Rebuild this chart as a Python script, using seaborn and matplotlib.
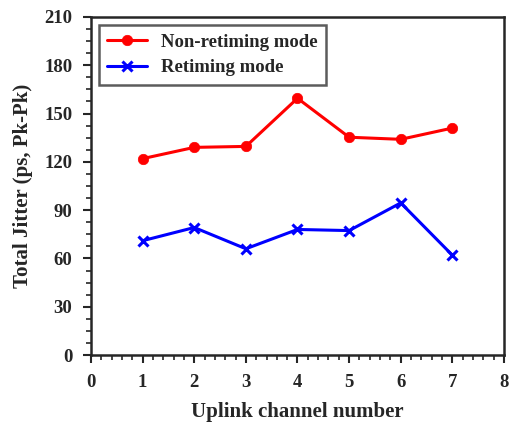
import matplotlib
matplotlib.use("Agg")
import matplotlib.pyplot as plt
import seaborn as sns
import pandas as pd
from matplotlib.ticker import MultipleLocator

channels = [1, 2, 3, 4, 5, 6, 7]
non_retiming = [122, 129, 129.6, 159.5, 135.3, 134, 141]
retiming = [71, 79.2, 66, 78, 77.3, 94.5, 62]
series_names = ["Non-retiming mode", "Retiming mode"]

sns.set_style("ticks")
plt.rcParams['font.family'] = ['Liberation Serif', 'DejaVu Serif']
plt.rcParams['font.weight'] = 'bold'

df_a = pd.DataFrame({"x": channels, "y": non_retiming})
df_b = pd.DataFrame({"x": channels, "y": retiming})

fig = plt.figure(figsize=(5.10, 4.23), dpi=100)
ax = fig.add_axes([91/510, (423-355)/423, (504-91)/510, (355-17)/423])

sns.lineplot(data=df_a, x="x", y="y", color="#ff0000", marker="o",
             linewidth=2.2, markersize=7.5, markeredgecolor="#ff0000",
             markeredgewidth=0.5, label=series_names[0], ax=ax)
sns.lineplot(data=df_b, x="x", y="y", color="#0000ff", marker="x",
             linewidth=2.2, markersize=7, markeredgecolor="#0000ff",
             markeredgewidth=2.2, label=series_names[1], ax=ax)

ax.set_xlim(0, 8)
ax.set_ylim(0, 210)
ax.xaxis.set_major_locator(MultipleLocator(1))
ax.xaxis.set_minor_locator(MultipleLocator(0.2))
ax.yaxis.set_major_locator(MultipleLocator(30))
ax.yaxis.set_minor_locator(MultipleLocator(7.5))
ax.tick_params(which="major", direction="out", length=6, width=1.5, labelsize=13.5, pad=7.5)
ax.tick_params(which="minor", direction="out", length=3.5, width=1.2)
for lab in ax.get_xticklabels() + ax.get_yticklabels():
    lab.set_fontweight("bold")
for s in ax.spines.values():
    s.set_linewidth(1.8)

ax.set_xlabel("Uplink channel number", fontsize=15, fontweight="bold", labelpad=8)
ax.set_ylabel("Total Jitter (ps, Pk-Pk)", fontsize=15, fontweight="bold", labelpad=8)

leg = ax.legend(loc="upper left", frameon=True, fancybox=False,
                prop={"size": 13.5, "weight": "bold"}, borderpad=0.45,
                handlelength=2.1, handletextpad=0.75, labelspacing=0.45,
                borderaxespad=0, bbox_to_anchor=(0.019, 0.976))
leg.get_frame().set_edgecolor("#333333")
leg.get_frame().set_linewidth(1.8)

fig.savefig("out.png", dpi=100)
